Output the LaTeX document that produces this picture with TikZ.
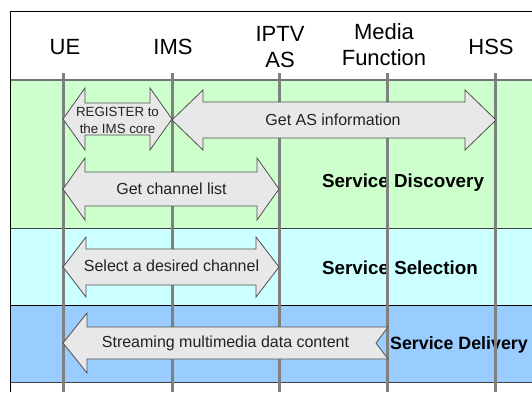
\documentclass[tikz,border=0pt]{standalone}
\usepackage{fontspec}
\setmainfont{Liberation Sans}
\definecolor{greenband}{HTML}{CCFFCC}
\definecolor{cyanband}{HTML}{CCFFFF}
\definecolor{blueband}{HTML}{99CCFF}
\definecolor{lifegray}{HTML}{808080}
\definecolor{bandgray}{HTML}{404040}
\definecolor{arrowfill}{HTML}{E8E8E8}
\definecolor{arrowedge}{HTML}{505050}
\definecolor{msgtext}{HTML}{222222}

% double-headed block arrow: x1, x2, y centre, half body, half head, head length
\newcommand\dblblock[6]{%
  \draw[blockarrow] (#1,#3) -- ({#1+#6},{#3-#5}) -- ({#1+#6},{#3-#4})
    -- ({#2-#6},{#3-#4}) -- ({#2-#6},{#3-#5}) -- (#2,#3)
    -- ({#2-#6},{#3+#5}) -- ({#2-#6},{#3+#4}) -- ({#1+#6},{#3+#4})
    -- ({#1+#6},{#3+#5}) -- cycle;}

\begin{document}
\begin{tikzpicture}[x=1pt,y=-1pt,
  lifeline/.style={draw=lifegray,line width=3pt},
  bandline/.style={draw=bandgray,line width=1pt},
  blockarrow/.style={draw=arrowedge,fill=arrowfill,line width=0.8pt,line join=miter},
  hdr/.style={font=\fontsize{22}{26}\selectfont,align=center,inner sep=0pt},
  msg/.style={font=\fontsize{16}{19}\selectfont,text=msgtext,inner sep=0pt},
  smallmsg/.style={font=\fontsize{13.3}{17}\selectfont,text=msgtext,align=center,inner sep=0pt},
  phase/.style={font=\fontsize{18.8}{22}\selectfont\bfseries,inner sep=0pt},
]
\useasboundingbox (0,0) rectangle (532,392);

% phase bands
\fill[greenband] (10,80) rectangle (532,228);
\fill[cyanband] (10,228) rectangle (532,305);
\fill[blueband] (10,305) rectangle (532,382);
\draw[draw=lifegray!90!black,line width=1.6pt] (10,80) -- (532,80);
\draw[bandline] (10,228) -- (532,228);
\draw[draw=black,line width=1pt] (10,305) -- (532,305);
\draw[bandline] (10,382) -- (532,382);

% outer frame
\draw[black,line width=1pt] (10,392) -- (10,11) -- (532,11);

% entity headers
\node[hdr] (hue) at (65,47) {UE};
\node[hdr] (hims) at (173,47) {IMS};
\node[hdr] (hiptv) at (280,47) {IPTV\\AS};
\node[hdr] (hmf) at (384,45) {Media\\Function};
\node[hdr] (hhss) at (491,47) {HSS};

% phase labels
\node[phase] (pdisc) at (403,183) {Service Discovery};
\node[phase] (psel) at (400,268) {Service Selection};
\node[phase,anchor=west,font=\fontsize{17.8}{22}\selectfont\bfseries] (pdel) at (390,345) {Service Delivery};

% lifelines
\foreach \n/\x in {ue/63,ims/172,iptv/279,mf/387,hss/495}{
  \coordinate (\n-top) at (\x,73);
  \coordinate (\n-bot) at (\x,392);
  \draw[lifeline] (\n-top) -- (\n-bot);
}

% message arrows
\dblblock{63}{172}{119}{16}{31}{22}
\dblblock{172}{496}{120}{18}{30}{31}
\dblblock{63}{279}{189}{17}{31}{22}
\dblblock{63}{279}{267}{18}{30}{23}
\draw[blockarrow] (63,343) -- (87,313) -- (87,327) -- (388,327) -- (376,343)
  -- (388,359) -- (87,359) -- (87,373) -- cycle;

% message texts
\node[smallmsg] (mreg) at (117.5,120.5) {REGISTER to\\the IMS core};
\node[msg] (mas) at (333,120) {Get AS information};
\node[msg] (mlist) at (171.5,189) {Get channel list};
\node[msg] (msel) at (171.5,266) {Select a desired channel};
\node[msg] (mstream) at (225.5,343) {Streaming multimedia data content};
\end{tikzpicture}
\end{document}
